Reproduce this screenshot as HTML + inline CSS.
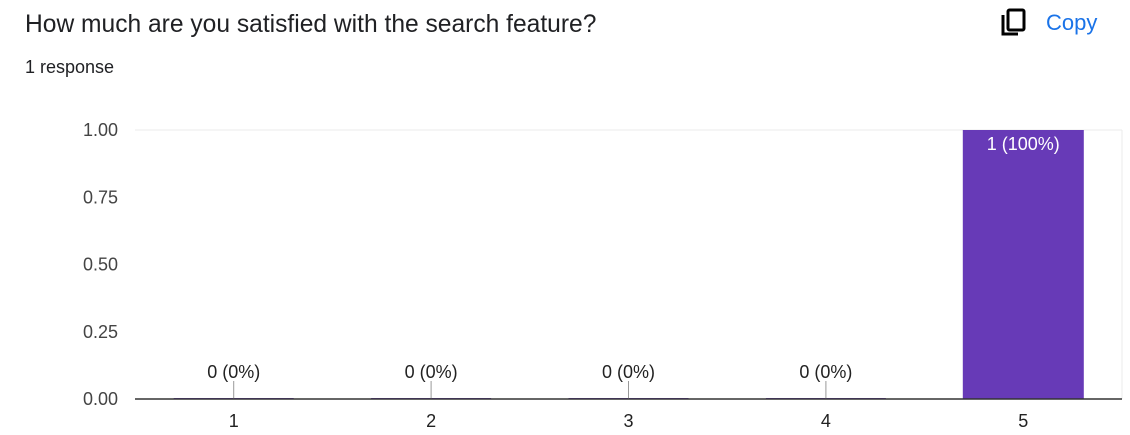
<!DOCTYPE html>
<html><head><meta charset="utf-8"><style>
body{margin:0;width:1130px;height:435px;background:#fff;font-family:"Liberation Sans",Arial,sans-serif;overflow:hidden;position:relative}
.t{position:absolute;left:25px;top:11px;font-size:24.6px;color:#202124}
.r{position:absolute;left:25px;top:57px;font-size:18px;color:#202124}
.copy{position:absolute;left:1000px;top:8px;display:flex;align-items:center;gap:18px;color:#1a73e8;font-size:22px}
</style></head><body>
<div class="t">How much are you satisfied with the search feature?</div>
<div class="r">1 response</div>
<div class="copy">
<svg width="28" height="30" viewBox="0 0 28 30"><rect x="8" y="2" width="16" height="20" rx="1.5" fill="none" stroke="#000" stroke-width="3"/><path d="M3 7v19h15" fill="none" stroke="#000" stroke-width="3"/></svg>
<span>Copy</span></div>
<svg id="c" width="1130" height="435" style="position:absolute;left:0;top:0"></svg>
<script>
const categories=["1","2","3","4","5"];
const counts=[0,0,0,0,1];
const labels=["0 (0%)","0 (0%)","0 (0%)","0 (0%)","1 (100%)"];
const yTicks=[0,0.25,0.5,0.75,1];
const yTickLabels=["0.00","0.25","0.50","0.75","1.00"];
const svg=document.getElementById('c');const NS='http://www.w3.org/2000/svg';
const L=135,R=1122,T=130,B=399,yMax=1;
const band=(R-L)/categories.length;
const x=i=>L+band*(i+0.5);
const y=v=>B-(v/yMax)*(B-T);
function mk(t,a,txt){const e=document.createElementNS(NS,t);for(const k in a)e.setAttribute(k,a[k]);if(txt!=null)e.textContent=txt;svg.appendChild(e);return e;}
yTicks.forEach((v,i)=>{
const g=mk('line',{x1:L,x2:R,y1:y(v),y2:y(v),stroke:v===1?'#ebebeb':'none'});


const t=mk('text',{x:118,y:y(v)+6,'text-anchor':'end','font-size':18,fill:'#444'},yTickLabels[i]);


});
mk('line',{x1:R,x2:R,y1:T,y2:B,stroke:'#ebebeb'});
categories.forEach((c,i)=>{
const bw=121,cx=x(i),v=counts[i];
if(v>0){
const b=mk('rect',{x:cx-bw/2,y:y(v),width:bw,height:B-y(v),fill:'#673ab7'});


const l=mk('text',{x:cx,y:y(v)+20,'text-anchor':'middle','font-size':18,fill:'#fff'},labels[i]);


}else{
const z=mk('line',{x1:cx-60,x2:cx+60,y1:B-0.5,y2:B-0.5,stroke:'#673ab7','stroke-width':1});


const s=mk('line',{x1:cx,x2:cx,y1:B-18,y2:B,stroke:'#999'});


const l=mk('text',{x:cx,y:B-21,'text-anchor':'middle','font-size':18,fill:'#222'},labels[i]);


}
const xl=mk('text',{x:cx,y:427,'text-anchor':'middle','font-size':18,fill:'#222'},c);


});
const ax=mk('line',{x1:L,x2:R,y1:B,y2:B,stroke:'#333','stroke-width':1.5});


</script>
</body></html>
